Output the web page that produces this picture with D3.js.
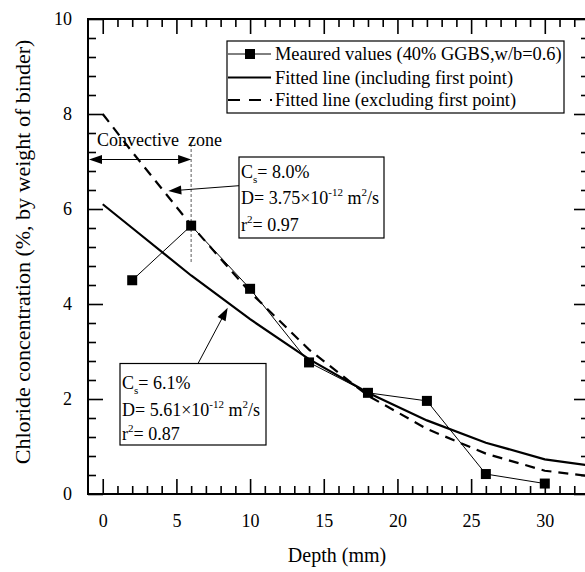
<!DOCTYPE html>
<html>
<head>
<meta charset="utf-8">
<script src="https://cdn.jsdelivr.net/npm/d3@7"></script>
<style>
  html, body { margin: 0; padding: 0; background: #fff; }
  svg { display: block; font-family: "Liberation Serif", "Times New Roman", serif; }
</style>
</head>
<body>
<svg id="chart" width="585" height="572"></svg>
<script>
// Measured chloride profile (40% GGBS, w/b = 0.6)
const depthMeasured = [2, 6, 10, 14, 18, 22, 26, 30];
const chlorideMeasured = [4.50, 5.65, 4.32, 2.77, 2.13, 1.96, 0.42, 0.22];

// Fitted profiles
const depthFit = [0, 2, 6, 10, 14, 18, 22, 26, 30, 34];
const fitIncluding = [6.1, 5.6, 4.6, 3.68, 2.84, 2.13, 1.55, 1.08, 0.73, 0.56];
const fitExcluding = [8.0, 7.2, 5.66, 4.25, 3.04, 2.07, 1.37, 0.85, 0.49, 0.34];

const xMajorTicks = [0, 5, 10, 15, 20, 25, 30];
const yMajorTicks = [0, 2, 4, 6, 8, 10];

const legendLabels = [
  "Meaured values (40% GGBS,w/b=0.6)",
  "Fitted line (including first point)",
  "Fitted line (excluding first point)"
];

const svg = d3.select("#chart");
const plotLeft = 88, plotTop = 19, plotRight = 589, plotBottom = 494;

const x = d3.scaleLinear().domain([-1, 33]).range([plotLeft, plotRight]);
const y = d3.scaleLinear().domain([0, 10]).range([plotBottom, plotTop]);

const xMinor = d3.range(0, 33, 1).filter(v => v % 5 !== 0);
const yMinor = d3.range(0, 10.01, 0.4).map(v => +v.toFixed(1))
  .filter(v => Math.abs(v / 2 - Math.round(v / 2)) > 1e-6);

// filled triangular arrowhead at (tx, ty) pointing away from (fx, fy)
function arrowHead(fx, fy, tx, ty) {
  const a = Math.atan2(ty - fy, tx - fx), L = 13, W = 4.5;
  const bx = tx - L * Math.cos(a), by = ty - L * Math.sin(a);
  const px = -Math.sin(a) * W, py = Math.cos(a) * W;
  svg.append("path")
    .attr("d", `M${tx},${ty}L${bx + px},${by + py}L${bx - px},${by - py}Z`)
    .attr("fill", "#000");
}

// frame
svg.append("rect").attr("x", plotLeft).attr("y", plotTop)
  .attr("width", plotRight - plotLeft).attr("height", plotBottom - plotTop)
  .attr("fill", "none").attr("stroke", "#000").attr("stroke-width", 2);

// axis titles
svg.append("text").attr("x", 337).attr("y", 562)
  .attr("text-anchor", "middle").attr("font-size", 20).text("Depth (mm)");
svg.append("text").attr("transform", "translate(30,252) rotate(-90)")
  .attr("text-anchor", "middle").attr("font-size", 22)
  .text("Chloride concentration (%, by weight of binder)");

const plot = svg.append("g");
const line = d3.line().x(d => x(d[0])).y(d => y(d[1]));

// convective zone boundary
plot.append("line")
  .attr("x1", x(6)).attr("x2", x(6)).attr("y1", 144).attr("y2", 262)
  .attr("stroke", "#777").attr("stroke-width", 1.2).attr("stroke-dasharray", "3,2");

// fitted curves
plot.append("path").datum(d3.zip(depthFit, fitIncluding))
  .attr("d", line).attr("fill", "none").attr("stroke", "#000").attr("stroke-width", 2.2);
plot.append("path").datum(d3.zip(depthFit, fitExcluding))
  .attr("d", line).attr("fill", "none").attr("stroke", "#000").attr("stroke-width", 2.2)
  .attr("stroke-dasharray", "10,7");

// measured series
const measured = d3.zip(depthMeasured, chlorideMeasured);
plot.append("path").datum(measured)
  .attr("d", line).attr("fill", "none").attr("stroke", "#000").attr("stroke-width", 1);
plot.selectAll("rect.pt").data(measured).join("rect").attr("class", "pt")
  .attr("x", d => x(d[0]) - 5).attr("y", d => y(d[1]) - 5)
  .attr("width", 10).attr("height", 10).attr("fill", "#000");

// convective zone arrow and label
svg.append("line").attr("x1", plotLeft + 8).attr("x2", x(6) - 8).attr("y1", 159.5).attr("y2", 159.5)
  .attr("stroke", "#000").attr("stroke-width", 1.2);
arrowHead(x(6), 159.5, plotLeft + 1, 159.5);
arrowHead(plotLeft, 159.5, x(6), 159.5);
svg.append("text").attr("x", 97).attr("y", 146).attr("font-size", 18)
  .attr("xml:space", "preserve").text("Convective  zone");

// legend
const lg = svg.append("g");
lg.append("rect").attr("x", 227).attr("y", 41).attr("width", 337).attr("height", 72)
  .attr("fill", "#fff").attr("stroke", "#000").attr("stroke-width", 1.2);
const rowsY = [54, 77.5, 100];
lg.append("line").attr("x1", 228).attr("x2", 271).attr("y1", rowsY[0]).attr("y2", rowsY[0])
  .attr("stroke", "#000").attr("stroke-width", 1);
lg.append("rect").attr("x", 245).attr("y", rowsY[0] - 5).attr("width", 10).attr("height", 10).attr("fill", "#000");
lg.append("line").attr("x1", 228).attr("x2", 271).attr("y1", rowsY[1]).attr("y2", rowsY[1])
  .attr("stroke", "#000").attr("stroke-width", 2.2);
lg.append("line").attr("x1", 228).attr("x2", 272).attr("y1", rowsY[2]).attr("y2", rowsY[2])
  .attr("stroke", "#000").attr("stroke-width", 2.2).attr("stroke-dasharray", "12,9");
lg.selectAll("text").data(legendLabels).join("text")
  .attr("x", 275).attr("y", (d, i) => rowsY[i] + 6).attr("font-size", 18.4).text(d => d);

// parameter boxes with sub/superscripts
function paramBox(bx, by, bw, bh, lines) {
  const g = svg.append("g");
  g.append("rect").attr("x", bx).attr("y", by).attr("width", bw).attr("height", bh)
    .attr("fill", "#fff").attr("stroke", "#000").attr("stroke-width", 1.2);
  lines.forEach(l => {
    const t = g.append("text").attr("x", bx + 2).attr("y", l.y).attr("font-size", 18)
      .attr("xml:space", "preserve");
    l.parts.forEach(p => {
      const ts = t.append("tspan").text(p.t);
      if (p.sub) ts.attr("font-size", 11).attr("dy", 5);
      if (p.sup) ts.attr("font-size", 11).attr("dy", -8);
      if (p.back) ts.attr("dy", p.back);
    });
  });
}

svg.append("line").attr("x1", 239).attr("y1", 185.7).attr("x2", 178).attr("y2", 190.3)
  .attr("stroke", "#000").attr("stroke-width", 1);
arrowHead(239, 185.7, 168.3, 191);
paramBox(239, 157, 145, 81, [
  { y: 178, parts: [{ t: "C" }, { t: "s", sub: true }, { t: "= 8.0%", back: -5 }] },
  { y: 204, parts: [{ t: "D= 3.75×10" }, { t: "-12", sup: true }, { t: " m", back: 8 }, { t: "2", sup: true }, { t: "/s", back: 8 }] },
  { y: 231, parts: [{ t: "r" }, { t: "2", sup: true }, { t: "= 0.97", back: 8 }] }
]);

svg.append("line").attr("x1", 198.3).attr("y1", 363).attr("x2", 223).attr("y2", 316.5)
  .attr("stroke", "#000").attr("stroke-width", 1);
arrowHead(198.3, 363, 227.7, 307.7);
paramBox(120, 363.5, 146, 81.5, [
  { y: 389, parts: [{ t: "C" }, { t: "s", sub: true }, { t: "= 6.1%", back: -5 }] },
  { y: 416, parts: [{ t: "D= 5.61×10" }, { t: "-12", sup: true }, { t: " m", back: 8 }, { t: "2", sup: true }, { t: "/s", back: 8 }] },
  { y: 440, parts: [{ t: "r" }, { t: "2", sup: true }, { t: "= 0.87", back: 8 }] }
]);

// axes: inward ticks on all four sides, labels on bottom and left
function styleAxis(g) {
  g.select(".domain").remove();
  g.selectAll(".tick line").attr("stroke", "#000").attr("stroke-width", 1.6);
  g.selectAll(".tick text").attr("font-size", 18).attr("fill", "#000")
    .attr("font-family", "Liberation Serif, serif");
}
function addAxis(axis, tx, ty) {
  svg.append("g").attr("transform", `translate(${tx},${ty})`).call(axis).call(styleAxis);
}
addAxis(d3.axisBottom(x).tickValues(xMajorTicks).tickSize(-15).tickPadding(20).tickFormat(d3.format("d")), 0, plotBottom);
addAxis(d3.axisBottom(x).tickValues(xMinor).tickSize(-8).tickFormat(""), 0, plotBottom);
addAxis(d3.axisTop(x).tickValues(xMajorTicks).tickSize(-15).tickFormat(""), 0, plotTop);
addAxis(d3.axisTop(x).tickValues(xMinor).tickSize(-8).tickFormat(""), 0, plotTop);
addAxis(d3.axisLeft(y).tickValues(yMajorTicks).tickSize(-15).tickPadding(16).tickFormat(d3.format("d")), plotLeft, 0);
addAxis(d3.axisLeft(y).tickValues(yMinor).tickSize(-8).tickFormat(""), plotLeft, 0);
addAxis(d3.axisRight(y).tickValues(yMajorTicks).tickSize(-15).tickFormat(""), plotRight, 0);
addAxis(d3.axisRight(y).tickValues(yMinor).tickSize(-8).tickFormat(""), plotRight, 0);
</script>
</body>
</html>
